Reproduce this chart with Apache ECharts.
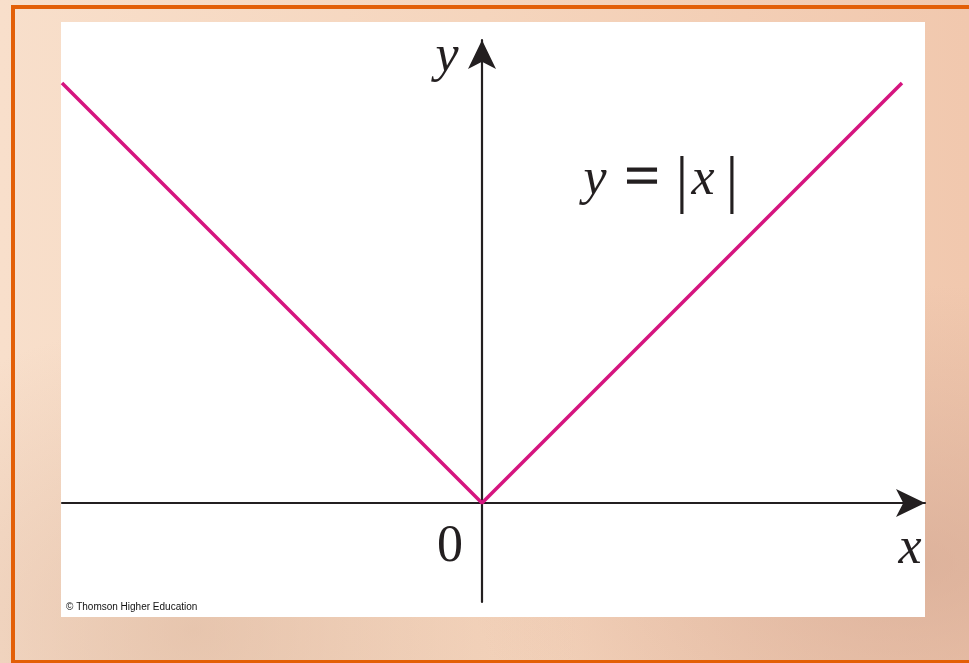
<!DOCTYPE html>
<html>
<head>
<meta charset="utf-8">
<title>y = |x|</title>
<script src="https://cdn.jsdelivr.net/npm/echarts@6/dist/echarts.min.js"></script>
<style>
  html, body { margin: 0; padding: 0; width: 969px; height: 663px; overflow: hidden; }
  body {
    position: relative;
    background:
      radial-gradient(ellipse at 95% 85%, rgba(205, 160, 140, 0.55), rgba(205, 160, 140, 0) 35%),
      radial-gradient(ellipse at 20% 95%, rgba(215, 175, 150, 0.5), rgba(215, 175, 150, 0) 35%),
      linear-gradient(90deg, #f8dfcb 0%, #f5d5bd 50%, #f1c8ae 100%);
  }
  .frame {
    position: absolute; left: 11px; top: 5px; width: 1000px; height: 651px;
    border-top: 4px solid #e35f07; border-left: 4px solid #e35f07; border-bottom: 4px solid #e35f07;
  }
  .panel { position: absolute; left: 61px; top: 22px; width: 864px; height: 595px; background: #fff; }
  #chart { position: absolute; left: 0; top: 0; width: 969px; height: 663px; }
</style>
</head>
<body>
<div class="frame"></div>
<div class="panel"></div>
<div id="chart"></div>
<script>
  // y = |x| sampled at the ends and the corner
  const xValues = [-10, 0, 10]
  const yValues = [10, 0, 10]

  const lineColor = '#d5157f'
  const axisColor = '#231f20'
  const serif = '"Liberation Serif"'

  const chart = echarts.init(document.getElementById('chart'), null, {renderer: 'canvas'})

  // one glyph of the formula, placed by hand
  function glyph(text, x, y, font, thick) {
    return {
      type: 'text', x: x, y: y, z: 10,
      style: {
        text: text, font: font, fill: axisColor, align: 'center', verticalAlign: 'middle',
        stroke: thick ? axisColor : null, lineWidth: thick || 0
      }
    }
  }

  chart.setOption({
    backgroundColor: 'transparent',
    animation: false,
    grid: {left: 62, right: 44, top: 40, bottom: 61},
    xAxis: {
      type: 'value',
      min: -10,
      max: 10.548,
      axisLine: {
        onZero: true,
        symbol: ['none', 'arrow'],
        symbolSize: [21, 29],
        lineStyle: {color: axisColor, width: 2.2}
      },
      axisTick: {show: false},
      axisLabel: {show: false},
      splitLine: {show: false}
    },
    yAxis: {
      type: 'value',
      min: -2.357,
      max: 11.024,
      axisLine: {
        onZero: true,
        symbol: ['none', 'arrow'],
        symbolSize: [21, 29],
        lineStyle: {color: axisColor, width: 2.2}
      },
      axisTick: {show: false},
      axisLabel: {show: false},
      splitLine: {show: false}
    },
    series: [{
      type: 'line',
      data: xValues.map((x, i) => [x, yValues[i]]),
      showSymbol: false,
      lineStyle: {color: lineColor, width: 3.5},
      z: 1
    }],
    graphic: [
      glyph('y', 447, 57, 'italic 52px ' + serif),
      glyph('x', 910, 549, 'italic 52px ' + serif),
      glyph('0', 450, 547, '52px ' + serif),
      // y = |x|
      glyph('y', 595, 180, 'italic 52px ' + serif),
      glyph('=', 642, 180, '62px ' + serif, 1.2),
      glyph('|', 682, 183, '64px ' + serif),
      glyph('x', 703, 180, 'italic 52px ' + serif),
      glyph('|', 732, 183, '64px ' + serif),
      {
        type: 'text', x: 66, y: 607, z: 10,
        style: {text: '\u00a9 Thomson Higher Education', font: '10px "Liberation Sans"', fill: '#111', align: 'left', verticalAlign: 'middle'}
      }
    ]
  })
</script>
</body>
</html>
